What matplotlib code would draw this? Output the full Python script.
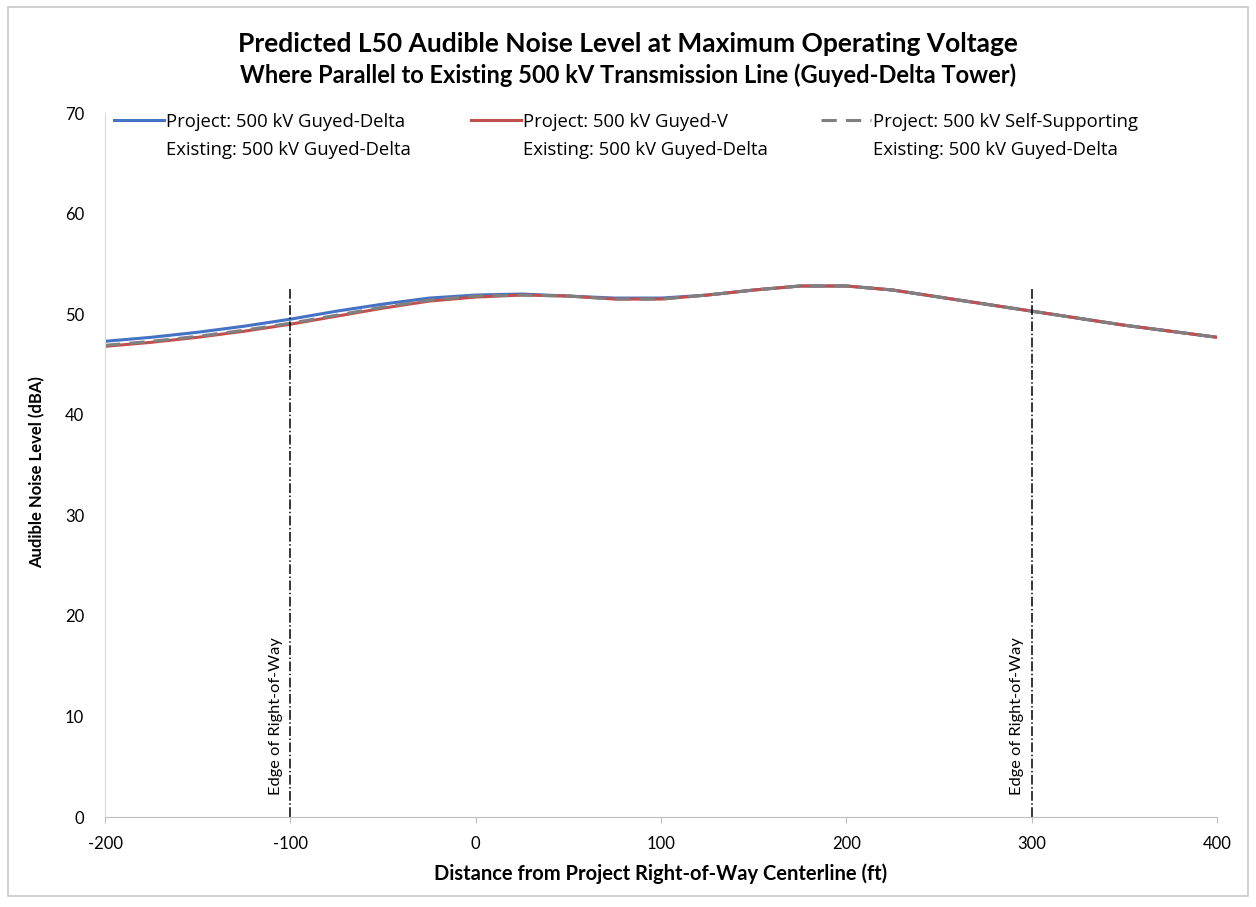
import numpy as np
import matplotlib.pyplot as plt
from matplotlib.patches import Rectangle
from matplotlib.legend import Legend

plt.rcParams['font.family'] = ['Lato', 'DejaVu Sans']
plt.rcParams['axes.unicode_minus'] = False

# distance from project ROW centerline (ft)
dist = [-200, -175, -150, -125, -100, -75, -50, -25, 0, 25, 50, 75, 100,
        125, 150, 175, 200, 225, 250, 275, 300, 325, 350, 375, 400]
# L50 audible noise (dBA)
guyed_delta = [47.3, 47.7, 48.2, 48.8, 49.5, 50.3, 51.0, 51.6, 51.9, 52.0, 51.8, 51.6, 51.6,
               51.9, 52.4, 52.8, 52.8, 52.4, 51.7, 51.0, 50.3, 49.6, 48.9, 48.3, 47.7]
guyed_v = [46.8, 47.2, 47.7, 48.3, 49.0, 49.8, 50.6, 51.3, 51.7, 51.9, 51.8, 51.5, 51.5,
           51.9, 52.4, 52.8, 52.8, 52.4, 51.7, 51.0, 50.3, 49.6, 48.9, 48.3, 47.7]
self_supp = [46.9, 47.3, 47.8, 48.4, 49.1, 49.9, 50.7, 51.4, 51.8, 51.9, 51.8, 51.5, 51.5,
             51.9, 52.4, 52.8, 52.8, 52.4, 51.7, 51.0, 50.3, 49.6, 48.9, 48.3, 47.7]
row_edges = [-100, 300]

labels = ["Project: 500 kV Guyed-Delta\nExisting: 500 kV Guyed-Delta",
          "Project: 500 kV Guyed-V\nExisting: 500 kV Guyed-Delta",
          "Project: 500 kV Self-Supporting\nExisting: 500 kV Guyed-Delta"]

fig = plt.figure(figsize=(12.56, 9.07), dpi=100)
ax = fig.add_axes([0.0836, 0.0992, 0.8854, 0.7762])

# outer chart border
fig.patches.append(Rectangle((0.006, 0.012), 0.988, 0.98, transform=fig.transFigure,
                             fill=False, edgecolor='#c8c8c8', linewidth=1.2))

l1, = ax.plot(dist, guyed_delta, color='#4472c4', lw=2.2)
l2, = ax.plot(dist, guyed_v, color='#c0504d', lw=2.2)
l3, = ax.plot(dist, self_supp, color='#808080', lw=2.2, ls=(0, (5, 3)))

for e in row_edges:
    ax.plot([e, e], [0, 52.5], color='black', lw=1.1, ls='-.')
    ax.text(e - 8, 10, "Edge of Right-of-Way", rotation=90, ha='center', va='center',
            fontsize=11.8)

ax.set_xlim(-200, 400)
ax.set_ylim(0, 70)
ax.set_xticks(np.arange(-200, 401, 100))
ax.set_yticks(np.arange(0, 71, 10))
ax.tick_params(axis='x', direction='out', length=4, color='#bfbfbf', labelsize=12, pad=10)
ax.tick_params(axis='y', length=0, labelsize=12, pad=15)
for s in ['top', 'right']:
    ax.spines[s].set_visible(False)
ax.spines['bottom'].set_color('#bfbfbf')
ax.spines['left'].set_color('#d9d9d9')

ax.set_xlabel("Distance from Project Right-of-Way Centerline (ft)", fontsize=14.5,
              fontweight='bold', labelpad=8)
ax.set_ylabel("Audible Noise Level (dBA)", fontsize=12, fontweight='bold')
ax.yaxis.set_label_coords(-0.054, 0.49)

fig.text(0.5, 0.951, "Predicted L50 Audible Noise Level at Maximum Operating Voltage",
         ha='center', va='center', fontsize=19, fontweight='bold')
fig.text(0.5, 0.917, "Where Parallel to Existing 500 kV Transmission Line (Guyed-Delta Tower)",
         ha='center', va='center', fontsize=17, fontweight='bold')

# one legend block per series, spaced like the original
for ln, lbl, x0 in zip([l1, l2, l3], labels, [0.008, 0.329, 0.644]):
    leg = Legend(ax, [ln], [lbl], loc='upper left', bbox_to_anchor=(x0, 1.0),
                 frameon=False, prop={'family': 'Open Sans', 'size': 13.3},
                 handlelength=2.7, handletextpad=0.1, borderpad=0, borderaxespad=0)
    for t in leg.get_texts():
        t.set_linespacing(1.7)
    h = leg.legend_handles[0]
    h.set_ydata(np.asarray(h.get_ydata()) + 11.5)
    ax.add_artist(leg)

fig.savefig('out.png', dpi=100, facecolor='white')
